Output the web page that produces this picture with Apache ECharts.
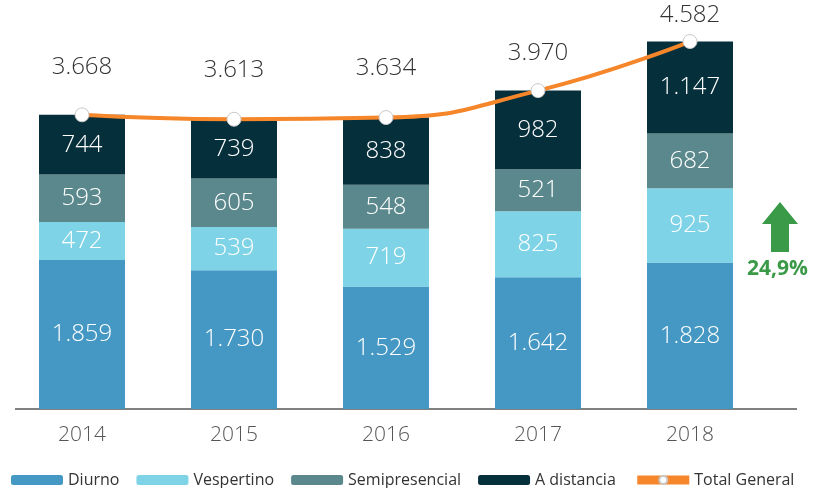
<!DOCTYPE html>
<html><head><meta charset="utf-8">
<script src="https://cdn.jsdelivr.net/npm/echarts@6/dist/echarts.min.js"></script>
<style>html,body{margin:0;padding:0;background:#fff}#c{width:813px;height:488px}</style>
</head><body><div id="c"></div>
<script>
var years = ['2014','2015','2016','2017','2018'];
var diurno = [1859, 1730, 1529, 1642, 1828];
var vespertino = [472, 539, 719, 825, 925];
var semipresencial = [593, 605, 548, 521, 682];
var aDistancia = [744, 739, 838, 982, 1147];
var totalGeneral = [3668, 3613, 3634, 3970, 4582];
var growthLabel = '24,9%';

var labelGap = [28, 30, 30, 18, 7];

function fmt(v){ return String(v).replace(/\B(?=(\d{3})+(?!\d))/g, '.'); }
var FONT = '"Open Sans"';
function barSeries(name, data, color){
  return {
    name: name, type: 'bar', stack: 'total', data: data, barWidth: 86,
    itemStyle: {color: color},
    label: {show: true, position: 'inside', color: '#fff', fontSize: 24, fontWeight: 300, fontFamily: FONT,
      formatter: function(p){ return fmt(p.value); }}
  };
}
var chart = echarts.init(document.getElementById('c'));
chart.setOption({
  animation: false,
  textStyle: {fontFamily: FONT},
  grid: {left: 6, right: 47, top: 0, bottom: 79},
  xAxis: {type: 'category', data: years, axisLine: {show: false}, axisTick: {show: false},
    axisLabel: {color: '#555', fontSize: 21, fontWeight: 300, margin: 16, fontFamily: FONT}},
  yAxis: {type: 'value', min: 0, max: 5100, show: false, splitLine: {show: false}},
  legend: {left: 11, top: 472, width: 802, itemWidth: 52, itemHeight: 10, itemGap: 17, padding: 0,
    textStyle: {fontSize: 16, color: '#333', fontFamily: FONT},
    data: ['Diurno','Vespertino','Semipresencial','A distancia',
      {name: 'Total General', lineStyle: {width: 9}}]},
  series: [
    barSeries('Diurno', diurno, '#4597C4'),
    barSeries('Vespertino', vespertino, '#7ED3E6'),
    barSeries('Semipresencial', semipresencial, '#5A888C'),
    barSeries('A distancia', aDistancia, '#062F3C'),
    {name: 'Total General', type: 'line', smooth: true,
      data: totalGeneral.map(function(v, i){ return {value: v, label: {distance: labelGap[i]}}; }),
      symbol: 'circle', symbolSize: 14,
      lineStyle: {color: '#F5862A', width: 4},
      itemStyle: {color: '#fff', borderColor: '#c8c8c8', borderWidth: 1},
      label: {show: true, position: 'top', color: '#333', fontSize: 24, fontWeight: 300, fontFamily: FONT,
        formatter: function(p){ return fmt(p.value); }},
      z: 5}
  ],
  graphic: [
    {type: 'line', shape: {x1: 15, y1: 409, x2: 797, y2: 409}, style: {stroke: '#808080', lineWidth: 2}},
    {type: 'polygon', shape: {points: [[780,202],[762,224],[771,224],[771,252],[789,252],[789,224],[798,224]]},
      style: {fill: '#3A9A48'}},
    {type: 'text', left: 747, top: 259, style: {text: growthLabel, fill: '#3A9A48', fontSize: 21, fontWeight: 'bold', fontFamily: FONT}}
  ]
});
</script></body></html>
